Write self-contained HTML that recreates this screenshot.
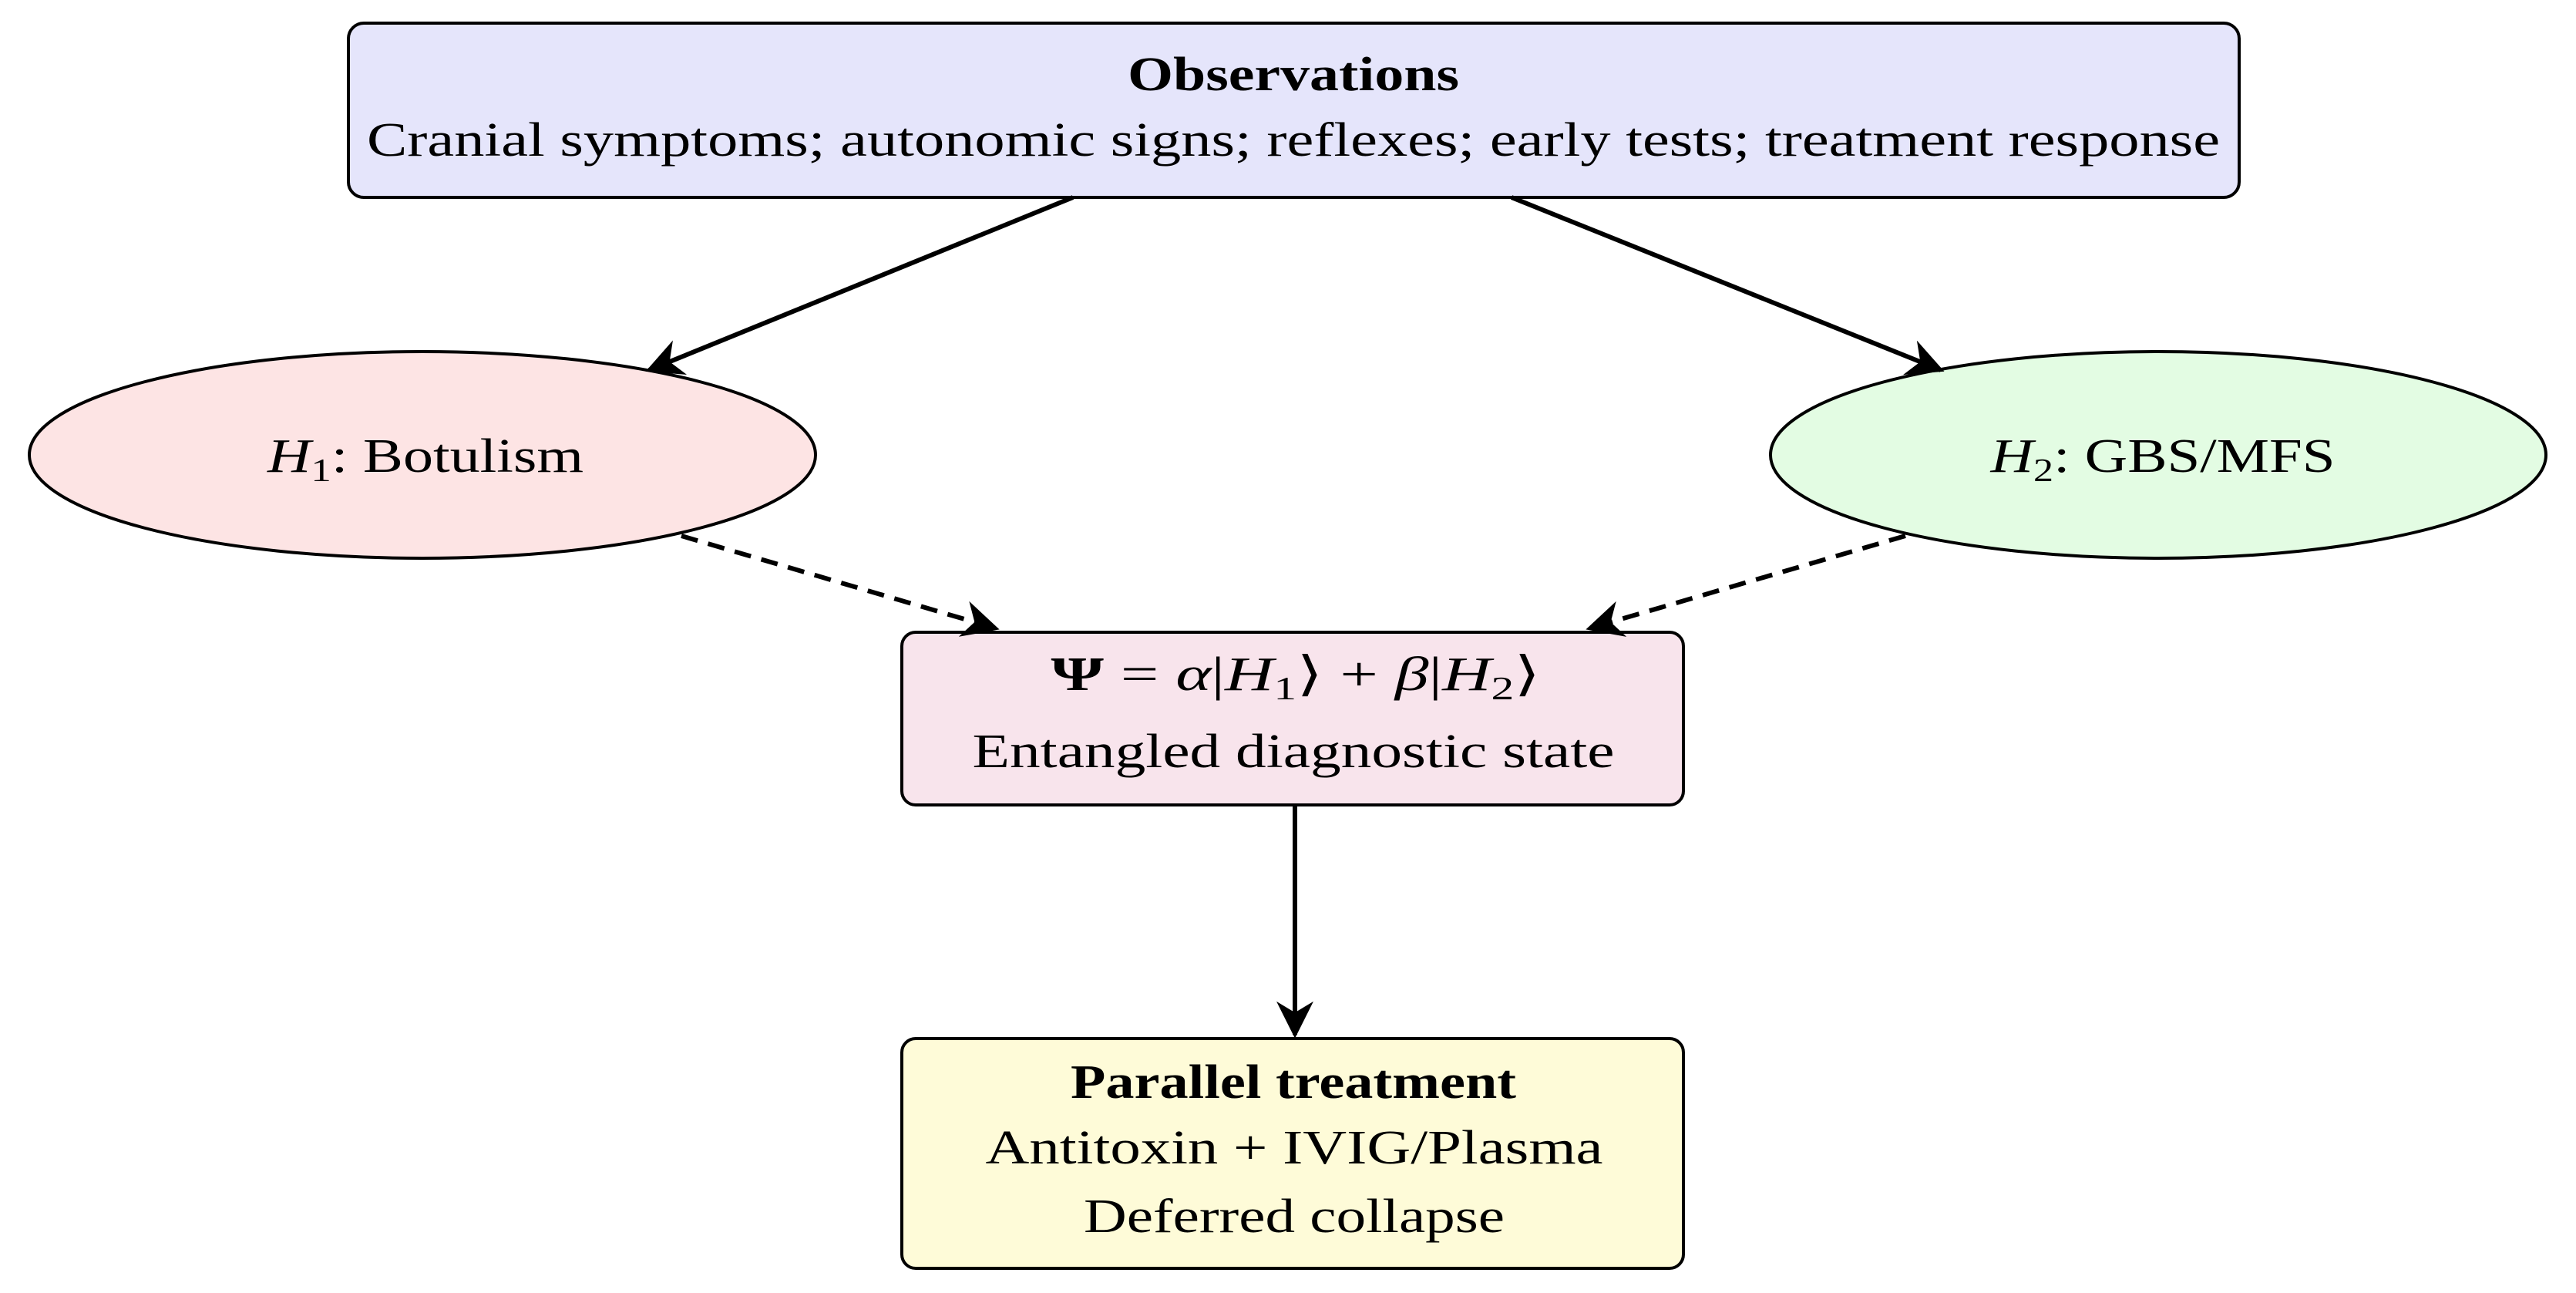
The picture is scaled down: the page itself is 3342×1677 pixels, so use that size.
<!DOCTYPE html>
<html><head><meta charset="utf-8"><style>html,body{margin:0;padding:0;background:#fff}svg{display:block}</style></head>
<body>
<svg width="3342" height="1677" viewBox="0 0 3342 1677" xmlns="http://www.w3.org/2000/svg" font-family="'Liberation Serif', serif" font-size="62">
<defs>
<marker id="a" viewBox="0 0 10 10" refX="9" refY="5" markerWidth="8" markerHeight="8" orient="auto-start-reverse">
<path d="M0,0 L10,5 L0,10 L3,5 z" fill="#000"/>
</marker>
</defs>
<g stroke="#000" stroke-width="4">
<rect x="452" y="30" width="2453" height="226" rx="20" fill="#e5e5fb"/>
<ellipse cx="548" cy="590" rx="510" ry="134" fill="#fde4e4"/>
<ellipse cx="2800" cy="590" rx="503" ry="134" fill="#e3fce3"/>
<rect x="1170" y="820" width="1014" height="224" rx="18" fill="#f8e4ec"/>
<rect x="1170" y="1347" width="1014" height="298" rx="18" fill="#fefbd8"/>
<g stroke-width="6" fill="none">
<line x1="1392" y1="256" x2="842" y2="480" marker-end="url(#a)"/>
<line x1="1961" y1="256" x2="2518" y2="480" marker-end="url(#a)"/>
<line x1="884" y1="695" x2="1292" y2="815" stroke-dasharray="22,14" marker-end="url(#a)"/>
<line x1="2472" y1="695" x2="2062" y2="815" stroke-dasharray="22,14" marker-end="url(#a)"/>
<line x1="1680" y1="1044" x2="1680" y2="1342" marker-end="url(#a)"/>
</g>
</g>
<g fill="#000" text-anchor="middle">
<text x="1678" y="117" font-weight="bold" textLength="430" lengthAdjust="spacingAndGlyphs">Observations</text>
<text x="1678" y="202" textLength="2404" lengthAdjust="spacingAndGlyphs">Cranial symptoms; autonomic signs; reflexes; early tests; treatment response</text>
<text x="552" y="612" textLength="410" lengthAdjust="spacingAndGlyphs"><tspan font-style="italic">H</tspan><tspan font-size="42" dy="12">1</tspan><tspan dy="-12">: Botulism</tspan></text>
<text x="2806" y="612" textLength="447" lengthAdjust="spacingAndGlyphs"><tspan font-style="italic">H</tspan><tspan font-size="42" dy="12">2</tspan><tspan dy="-12">: GBS/MFS</tspan></text>
<text x="1681" y="895" textLength="635" lengthAdjust="spacingAndGlyphs"><tspan font-weight="bold">Ψ</tspan> = <tspan font-style="italic">α</tspan>|<tspan font-style="italic">H</tspan><tspan font-size="42" dy="12">1</tspan><tspan dy="-12">⟩ + </tspan><tspan font-style="italic">β</tspan>|<tspan font-style="italic">H</tspan><tspan font-size="42" dy="12">2</tspan><tspan dy="-12">⟩</tspan></text>
<text x="1678" y="995" textLength="833" lengthAdjust="spacingAndGlyphs">Entangled diagnostic state</text>
<text x="1678" y="1424" font-weight="bold" textLength="578" lengthAdjust="spacingAndGlyphs">Parallel treatment</text>
<text x="1679" y="1509" textLength="801" lengthAdjust="spacingAndGlyphs">Antitoxin + IVIG/Plasma</text>
<text x="1679" y="1598" textLength="546" lengthAdjust="spacingAndGlyphs">Deferred collapse</text>
</g>
</svg>
</body></html>
